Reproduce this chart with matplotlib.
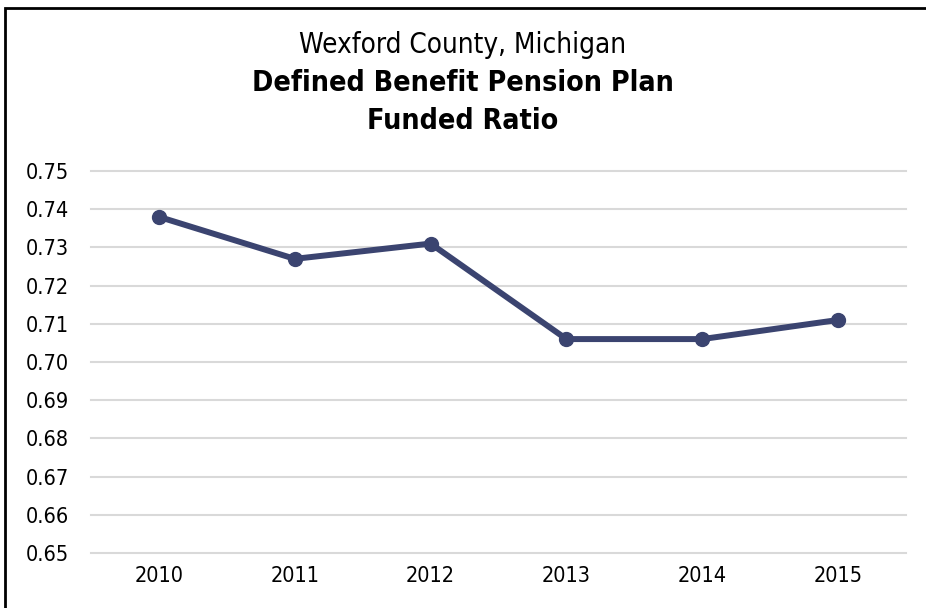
import matplotlib
matplotlib.use("Agg")
import matplotlib.pyplot as plt
from matplotlib.patches import Rectangle

years = ["2010", "2011", "2012", "2013", "2014", "2015"]
funded_ratio = [0.738, 0.727, 0.731, 0.706, 0.706, 0.711]
y_ticks = [0.65, 0.66, 0.67, 0.68, 0.69, 0.70, 0.71, 0.72, 0.73, 0.74, 0.75]

plt.rcParams["font.family"] = ["DejaVu Sans"]
plt.rcParams["font.stretch"] = "condensed"

fig = plt.figure(figsize=(9.26, 6.08), dpi=100)
ax = fig.add_axes([91 / 926, 1 - 553 / 608, 815 / 926, 382 / 608])

x = range(len(years))
ax.plot(x, funded_ratio, color="#3b4470", lw=4.3, marker="o", ms=10,
        solid_capstyle="round", zorder=3)

ax.set_xlim(-0.5, len(years) - 0.5)
ax.set_ylim(0.65, 0.75)
ax.set_xticks(list(x))
ax.set_xticklabels(years)
ax.set_yticks(y_ticks)
ax.set_yticklabels([f"{v:.2f}" for v in y_ticks])
ax.tick_params(axis="both", length=0, labelsize=15.5, colors="black")
ax.tick_params(axis="y", pad=16)
ax.tick_params(axis="x", pad=9)
ax.grid(axis="y", color="#d9d9d9", lw=1.5)
for gl in ax.get_ygridlines():
    gl.set_clip_on(False)
ax.set_axisbelow(True)
for sp in ax.spines.values():
    sp.set_visible(False)

fig.text(0.5, 1 - 45 / 608, "Wexford County, Michigan", ha="center", va="center",
         fontsize=20)
fig.text(0.5, 1 - 83 / 608, "Defined Benefit Pension Plan", ha="center", va="center",
         fontsize=20.5, fontweight="bold")
fig.text(0.5, 1 - 121 / 608, "Funded Ratio", ha="center", va="center",
         fontsize=20.5, fontweight="bold")

# outer chart border (only top and left edges visible in the crop)
fig.patches.append(Rectangle((5 / 926, -0.1), 1.2, 1 - 8 / 608 + 0.1,
                             transform=fig.transFigure, fill=False,
                             edgecolor="black", lw=2))

fig.savefig("out.png", dpi=100)
